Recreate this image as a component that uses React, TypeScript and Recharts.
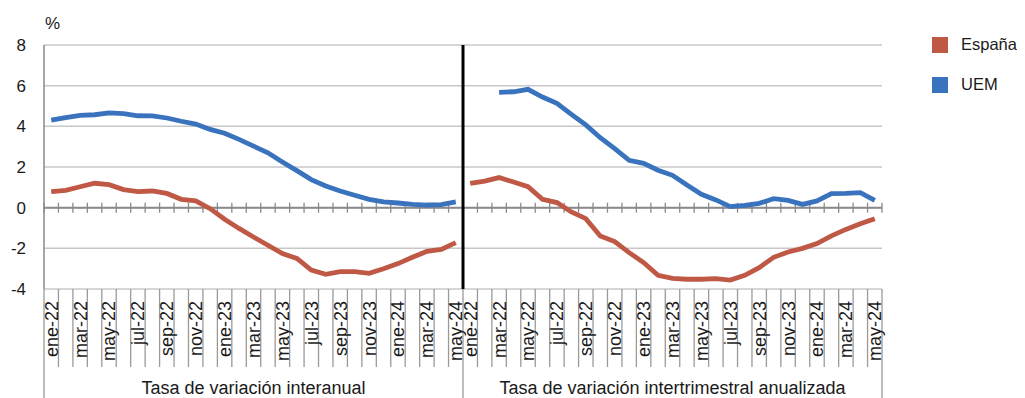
import { CartesianGrid, Line, LineChart, ReferenceLine, XAxis, YAxis } from "recharts"

// month labels, repeated for each panel
const months = [
  "ene-22", "feb-22", "mar-22", "abr-22", "may-22", "jun-22", "jul-22", "ago-22", "sep-22", "oct-22", "nov-22", "dic-22",
  "ene-23", "feb-23", "mar-23", "abr-23", "may-23", "jun-23", "jul-23", "ago-23", "sep-23", "oct-23", "nov-23", "dic-23",
  "ene-24", "feb-24", "mar-24", "abr-24", "may-24",
]

const panels = ["Tasa de variación interanual", "Tasa de variación intertrimestral anualizada"]

// Tasa de variación interanual
const espanaInteranual = [
  0.79, 0.85, 1.03, 1.2, 1.13, 0.89, 0.79, 0.82, 0.7, 0.41, 0.33, -0.05,
  -0.57, -1.02, -1.44, -1.85, -2.26, -2.5, -3.07, -3.28, -3.15, -3.15, -3.23, -3.0,
  -2.75, -2.44, -2.15, -2.05, -1.72,
]
const uemInteranual = [
  4.31, 4.43, 4.54, 4.57, 4.66, 4.62, 4.52, 4.51, 4.41, 4.25, 4.11, 3.85,
  3.66, 3.36, 3.03, 2.7, 2.25, 1.82, 1.38, 1.07, 0.82, 0.61, 0.41, 0.28,
  0.23, 0.16, 0.13, 0.15, 0.28,
]

// Tasa de variación intertrimestral anualizada
const espanaIntertrimestral = [
  1.2, 1.31, 1.48, 1.26, 1.03, 0.41, 0.25, -0.21, -0.54, -1.39, -1.67, -2.21,
  -2.7, -3.33, -3.48, -3.52, -3.52, -3.49, -3.56, -3.33, -2.95, -2.44, -2.18, -2.0,
  -1.77, -1.39, -1.07, -0.79, -0.54,
]
const uemIntertrimestral = [
  null, null, 5.67, 5.7, 5.82, 5.44, 5.13, 4.59, 4.07, 3.44, 2.9, 2.33,
  2.18, 1.84, 1.59, 1.11, 0.66, 0.38, 0.05, 0.11, 0.21, 0.44, 0.36, 0.16,
  0.33, 0.69, 0.7, 0.74, 0.36,
]

const yTicks = [-4, -2, 0, 2, 4, 6, 8]

const ESP = "#bf5946"
const UEM = "#3a73bd"
const M = months.length
const N = M * 2

const data = [
  ...months.map((m, i) => ({ idx: i, espL: espanaInteranual[i], uemL: uemInteranual[i], espR: null, uemR: null })),
  ...months.map((m, i) => ({ idx: i + M, espL: null, uemL: null, espR: espanaIntertrimestral[i], uemR: uemIntertrimestral[i] })),
]

const font = "'Liberation Sans', Arial, sans-serif"

const MonthTick = (props: any) => {
  const { x, y, payload } = props
  const k = payload.value % M
  if (k % 2) return <g />
  return (
    <text x={x} y={y} transform={`rotate(-90 ${x} ${y})`} textAnchor="end" dy="0.36em" fontSize={18} fill="#1a1a1a" fontFamily={font}>
      {months[k]}
    </text>
  )
}

const zeroShape = (p: any) => {
  const { x1, x2, y1 } = p
  const step = (x2 - x1) / N
  return (
    <g>
      <line x1={x1} x2={x2} y1={y1} y2={y1} stroke="#8a8a8a" strokeWidth={2} />
      {Array.from({ length: N + 1 }, (_, k) => (
        <line key={k} x1={x1 + k * step} x2={x1 + k * step} y1={y1 - 5} y2={y1 + 5} stroke="#8a8a8a" strokeWidth={1.3} />
      ))}
    </g>
  )
}

const boundaryShape = (long: boolean) => (p: any) => {
  const bottom = Math.max(p.y1, p.y2)
  return <line x1={p.x1} x2={p.x1} y1={bottom} y2={bottom + (long ? 112 : 78)} stroke="#9a9a9a" strokeWidth={1.3} />
}

const panelLabel = (text: string) => (p: any) => (
  <text x={p.x1} y={Math.max(p.y1, p.y2) + 105} textAnchor="middle" fontSize={18} fill="#1a1a1a" fontFamily={font}>
    {text}
  </text>
)

const legendText = { position: "absolute" as const, left: 953, fontSize: 16.5, color: "#1a1a1a", whiteSpace: "nowrap" as const }

export default function App() {
  return (
    <div style={{ position: "relative", width: 1009, height: 390, fontFamily: font }}>
      <LineChart width={1009} height={390} data={data} margin={{ top: 37, right: 135, bottom: 0, left: 0 }}>
        <CartesianGrid vertical={false} stroke="#c8c8c8" strokeWidth={1.5} />
        <XAxis dataKey="idx" type="category" scale="band" interval={0} height={109} tickSize={0} tickMargin={12} axisLine={false} tick={<MonthTick />} />
        <YAxis
          domain={[-4, 8]}
          ticks={yTicks}
          width={36}
          tickSize={0}
          tickMargin={18}
          axisLine={{ stroke: "#8a8a8a", strokeWidth: 1.5 }}
          tickLine={false}
          tick={{ fontSize: 17, fill: "#1a1a1a", fontFamily: font }}
        />
        <ReferenceLine y={0} shape={zeroShape} />
        {data.map((d) => (
          <ReferenceLine key={d.idx} x={d.idx} position="start" ifOverflow="visible" shape={boundaryShape(d.idx % M === 0)} />
        ))}
        <ReferenceLine x={N - 1} position="end" ifOverflow="visible" shape={boundaryShape(true)} />
        <ReferenceLine x={Math.floor(M / 2)} position="middle" shape={panelLabel(panels[0])} />
        <ReferenceLine x={M + Math.floor(M / 2)} position="middle" shape={panelLabel(panels[1])} />
        <Line dataKey="uemL" stroke={UEM} strokeWidth={4.8} dot={false} isAnimationActive={false} />
        <Line dataKey="espL" stroke={ESP} strokeWidth={4.8} dot={false} isAnimationActive={false} />
        <Line dataKey="uemR" stroke={UEM} strokeWidth={4.8} dot={false} isAnimationActive={false} />
        <Line dataKey="espR" stroke={ESP} strokeWidth={4.8} dot={false} isAnimationActive={false} />
        <ReferenceLine x={M} position="start" stroke="#000" strokeWidth={3} />
      </LineChart>
      <div style={{ position: "absolute", left: 37, top: 6, fontSize: 17, color: "#1a1a1a" }}>%</div>
      <div style={{ position: "absolute", left: 924, top: 29, width: 16, height: 16, background: ESP }} />
      <div style={{ ...legendText, top: 27 }}>España</div>
      <div style={{ position: "absolute", left: 924, top: 69, width: 16, height: 16, background: UEM }} />
      <div style={{ ...legendText, top: 67 }}>UEM</div>
    </div>
  )
}
